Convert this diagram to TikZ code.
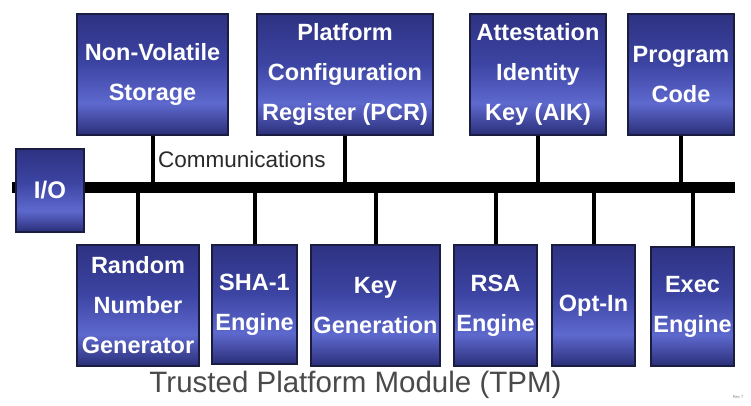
\documentclass[tikz,border=0pt]{standalone}
\usepackage{fontspec}
\setmainfont{Liberation Sans}
\usetikzlibrary{shadings}

\definecolor{boxtop}{HTML}{2E3282}
\definecolor{boxupper}{HTML}{3C44A2}
\definecolor{boxglow}{HTML}{5E69CE}
\definecolor{boxbottom}{HTML}{2A2E78}
\definecolor{boxedge}{HTML}{1A1C40}
\definecolor{labelgray}{HTML}{2A2A2A}

% dark navy at the edges, brighter band a little below the middle
\pgfdeclareverticalshading{tpmshade}{100bp}{%
  color(0bp)=(boxbottom); color(25bp)=(boxbottom);
  color(38bp)=(boxglow); color(55bp)=(boxupper);
  color(75bp)=(boxtop); color(100bp)=(boxtop)}

\tikzset{
  unit/.style={draw=boxedge, line width=1.4pt, shading=tpmshade,
    text=white, inner sep=0pt, align=center,
    font=\fontsize{23.5}{40}\selectfont\bfseries},
  bus/.style={line width=11pt},
  tap/.style={line width=4pt},
}

\begin{document}
\begin{tikzpicture}[x=1pt,y=-1pt]
\useasboundingbox[fill=white] (0,0) rectangle (751,405);

% the internal bus
\coordinate (busL) at (12,187.5);
\coordinate (busR) at (735,187.5);
\draw[bus] (busL) -- (busR);

% units above the bus
\node[unit, minimum width=151pt, minimum height=121pt] (nvs)  at (152.5,74.5) {Non-Volatile\\Storage};
\node[unit, minimum width=176pt, minimum height=121pt] (pcr)  at (345,74.5)   {Platform\\Configuration\\Register (PCR)};
\node[unit, minimum width=136pt, minimum height=121pt] (aik)  at (538,74.5)   {Attestation\\Identity\\Key (AIK)};
\node[unit, minimum width=106pt, minimum height=121pt] (prog) at (681,74.5)   {Program\\Code};

% units below the bus
\node[unit, minimum width=122pt, minimum height=121pt] (rng)  at (138,305.5)  {Random\\Number\\Generator};
\node[unit, minimum width=85pt,  minimum height=119pt] (sha)  at (254.5,304.5){SHA-1\\Engine};
\node[unit, minimum width=129pt, minimum height=121pt] (kgen) at (375.5,305.5){Key\\Generation};
\node[unit, minimum width=83pt,  minimum height=121pt] (rsa)  at (495.5,305.5){RSA\\Engine};
\node[unit, minimum width=83pt,  minimum height=121pt] (opt)  at (593.5,305.5){Opt-In};
\node[unit, minimum width=83pt,  minimum height=119pt] (exec) at (692.5,306.5){Exec\\Engine};

% taps from each unit to the bus
\foreach \u in {nvs,pcr,aik,prog}
  \draw[tap] (\u.south) -- (\u.south |- busL);
\foreach \u in {rng,sha,kgen,rsa,opt,exec}
  \draw[tap] (\u.north) -- (\u.north |- busL);

% I/O sits over the left end of the bus
\node[unit, minimum width=68pt, minimum height=83pt, font=\fontsize{24}{28}\selectfont\bfseries] (io) at (50,190.5) {I/O};

\node[anchor=west, text=labelgray, inner sep=0pt, font=\fontsize{22.5}{27}\selectfont] (comm) at (158,159) {Communications};

\node[text=labelgray!85, inner sep=0pt, font=\fontsize{29.5}{34}\selectfont] (title) at (355.5,385) {Trusted Platform Module (TPM)};

\node[text=gray, inner sep=0pt, font=\fontsize{4}{5}\selectfont] (rev) at (738,397) {Rev 7};
\end{tikzpicture}
\end{document}
